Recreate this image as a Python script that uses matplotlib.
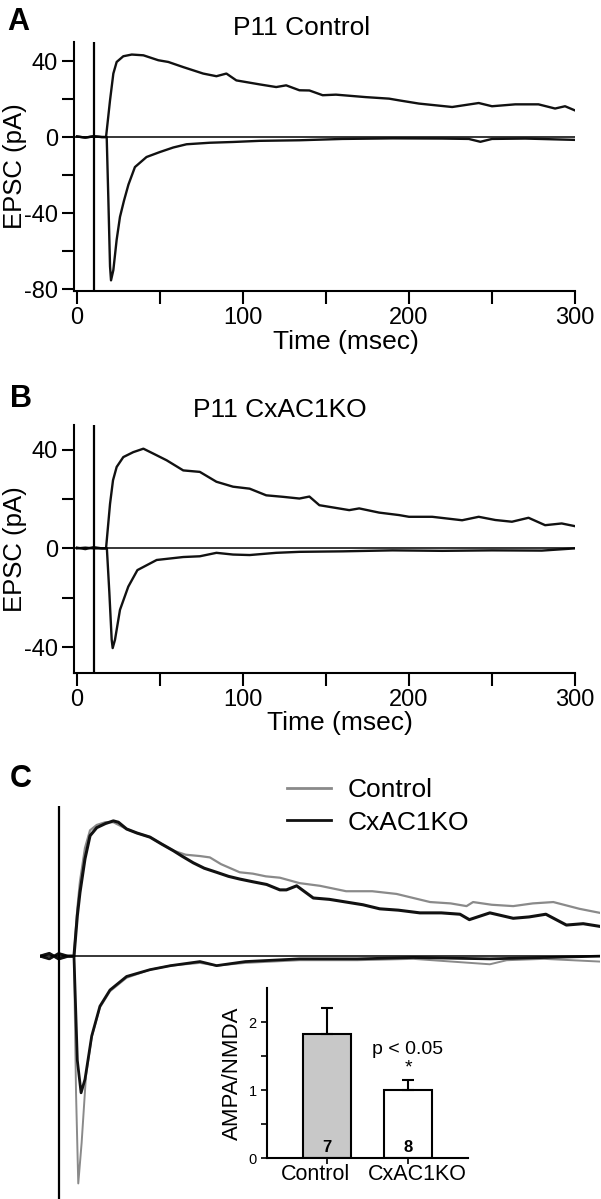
import matplotlib.pyplot as plt

plt.rcParams['font.family'] = ['Liberation Sans', 'DejaVu Sans']

W, H = 601, 1199

# --- panel A, P11 control (pA vs ms) ---
a_up_t = [0, 5, 10, 15, 17.5, 19.9, 21.9, 23.9, 27.9, 33, 40, 49, 55, 64, 76, 84, 90, 96,
          110, 120, 126, 134, 140, 148, 156, 174, 188, 194, 206, 226, 242, 250, 264, 278,
          288, 294, 300]
a_up_i = [0.3, -0.3, 0.5, 0, 0, 19.3, 33.4, 39.5, 42.5, 43.4, 43, 40.4, 39.5, 36.8, 33.4,
          32, 33.4, 29.8, 27.7, 26.3, 27.2, 24.6, 24.5, 22, 22.3, 21, 20.2, 19.3, 17.6,
          15.8, 17.9, 16.2, 17.2, 17.2, 15, 16.2, 14]
a_dn_t = [0, 5, 10, 15, 17.9, 18.9, 19.9, 20.5, 21.9, 23.9, 25.9, 28.3, 31, 34.9, 41.9,
          49.9, 58, 66, 80, 94, 110, 134, 160, 190, 220, 236, 243, 250, 270, 300]
a_dn_i = [0.3, -0.3, 0.3, 0, 0, -33, -68, -75.4, -70, -54, -42, -33.5, -25, -15.8, -10.5,
          -7.9, -5.5, -3.8, -3, -2.6, -2, -1.7, -1, -0.7, -0.8, -1, -2.5, -1, -0.8, -1.5]

# --- panel B, P11 CxAC1KO ---
b_up_t = [0, 5, 10, 15, 17.5, 19.9, 21.7, 23.9, 27.9, 33.9, 40, 46, 54, 64, 74, 84, 94,
          104, 114, 124, 134, 140, 146, 155, 164, 170, 182, 194, 200, 214, 232, 242, 252,
          262, 272, 282, 292, 300]
b_up_i = [0.3, -0.3, 0.5, 0, 0, 18, 27.6, 33, 37, 39, 40.4, 38.4, 35.7, 31.6, 31, 27, 25,
          24.2, 21.5, 20.9, 20.2, 21, 17.5, 16.5, 15.5, 16.2, 14.5, 13.5, 12.8, 12.8, 11.4,
          12.8, 11.5, 10.8, 12.4, 9.4, 10.1, 9]
b_dn_t = [0, 5, 10, 15, 18, 19.5, 20.9, 21.5, 22.9, 25.9, 30.9, 36.4, 48, 64, 74, 84, 94,
          104, 120, 134, 160, 190, 220, 250, 280, 300]
b_dn_i = [0, 0.3, 0, 0, 0, -18, -37, -40.4, -37, -24.9, -15.5, -8.8, -4.7, -3.5, -3.2,
          -1.8, -2.5, -2.7, -1.8, -1.4, -1.2, -0.8, -1, -0.8, -0.9, 0]

# --- panel C, normalised averages ---
c_ko_up_t = [0, 5, 10, 15, 18.2, 20, 21.4, 24.1, 26.8, 30.4, 35, 39.3, 42, 46.4, 52, 58.9,
             65, 71.4, 76, 82.1, 88, 94.6, 101, 107, 114, 121.4, 128.5, 132, 137.5, 146.4,
             155, 164, 173, 182, 192, 203.5, 215, 225, 230, 241, 253.5, 262, 271, 282, 291,
             300]
c_ko_up = [0, 0.02, -0.02, 0, 0, 0.3, 0.47, 0.72, 0.89, 0.95, 0.98, 1.0, 0.99, 0.94, 0.91,
           0.88, 0.83, 0.78, 0.74, 0.69, 0.65, 0.62, 0.59, 0.57, 0.55, 0.53, 0.49, 0.49,
           0.52, 0.43, 0.42, 0.40, 0.38, 0.35, 0.34, 0.32, 0.32, 0.31, 0.27, 0.32, 0.28,
           0.29, 0.31, 0.23, 0.24, 0.22]
c_ct_up_t = [0, 5, 10, 15, 18.2, 20, 21.4, 24.1, 26.8, 30.4, 35, 39.3, 46.4, 52, 58.9, 65,
             71.4, 78, 85.7, 91, 97, 107, 114, 121, 128.5, 139, 150, 164, 178, 191, 200,
             209, 220, 228.5, 232, 242, 253.5, 264, 275, 289, 300]
c_ct_up = [0, 0.02, -0.02, 0, 0, 0.35, 0.55, 0.8, 0.93, 0.97, 0.99, 0.99, 0.94, 0.91, 0.88,
           0.83, 0.78, 0.75, 0.74, 0.73, 0.68, 0.62, 0.61, 0.59, 0.58, 0.54, 0.52, 0.48,
           0.48, 0.46, 0.43, 0.40, 0.39, 0.37, 0.40, 0.38, 0.37, 0.39, 0.40, 0.35, 0.32]
c_ko_dn_t = [0, 5, 10, 15, 18.2, 20, 22, 24.1, 27.7, 32.1, 37.5, 46.4, 58.9, 70, 85.7, 94.6,
             110, 139, 170, 200, 241, 270, 300]
c_ko_dn = [0, -0.02, 0.02, 0, 0, -0.77, -1.01, -0.91, -0.59, -0.37, -0.25, -0.15, -0.10,
           -0.07, -0.04, -0.07, -0.04, -0.02, -0.02, -0.01, -0.02, -0.01, 0]
c_ct_dn_t = [0, 5, 10, 15, 18.2, 19.3, 20.5, 22.3, 24.6, 27.7, 32.1, 37.5, 46.4, 58.9, 70,
             85.7, 94.6, 110, 139, 170, 200, 241, 250, 270, 300]
c_ct_dn = [0, -0.02, 0.02, 0, 0, -1.01, -1.68, -1.38, -0.89, -0.6, -0.38, -0.26, -0.16,
           -0.10, -0.07, -0.05, -0.07, -0.05, -0.03, -0.03, -0.02, -0.06, -0.03, -0.02, -0.04]

# --- inset bar chart ---
groups = ['Control', 'CxAC1KO']
ratio = [1.83, 1.0]
ratio_err = [0.38, 0.15]
n_cells = ['7', '8']


def px_axes(fig, left, top, right, bottom):
    return fig.add_axes([left / W, 1 - bottom / H, (right - left) / W, (bottom - top) / H])


def trace_panel(ax, traces, ylim, yticks, ylabels, xlab_pos):
    for t, i in traces:
        ax.plot(t, i, color='#111111', lw=1.7)
    ax.axhline(0, color='black', lw=1.1)
    ax.axvline(10, color='black', lw=1.6)
    ax.set_xlim(-1.8, 300)
    ax.set_ylim(*ylim)
    ax.set_xticks(range(0, 301, 50))
    ax.set_xticklabels(['0', '', '100', '', '200', '', '300'])
    ax.set_yticks(yticks)
    ax.set_yticklabels(ylabels)
    ax.tick_params(length=9, width=1.5, labelsize=17, pad=2.5)
    for s in ['top', 'right']:
        ax.spines[s].set_visible(False)
    for s in ['left', 'bottom']:
        ax.spines[s].set_linewidth(1.5)
    ax.set_xlabel('Time (msec)', fontsize=19)
    ax.xaxis.set_label_coords(*xlab_pos)
    ax.set_ylabel('EPSC (pA)', fontsize=18.5)
    ax.yaxis.set_label_coords((27 - 74) / 501, 0.5)


fig = plt.figure(figsize=(W / 100, H / 100), dpi=100)

axA = px_axes(fig, 74, 42, 575, 291)
trace_panel(axA, [(a_up_t, a_up_i), (a_dn_t, a_dn_i)], (-81, 50),
            range(-80, 41, 20), ['-80', '', '-40', '', '0', '', '40'],
            ((346 - 74) / 501, -0.158))
fig.text(302 / W, 1 - 35 / H, 'P11 Control', fontsize=19, ha='center', va='baseline')
fig.text(7 / W, 1 - 30 / H, 'A', fontsize=22, fontweight='bold', va='baseline')

axB = px_axes(fig, 74, 425, 575, 673)
trace_panel(axB, [(b_up_t, b_up_i), (b_dn_t, b_dn_i)], (-50.5, 50),
            range(-40, 41, 20), ['-40', '', '0', '', '40'],
            ((340 - 74) / 501, -0.152))
fig.text(280 / W, 1 - 417 / H, 'P11 CxAC1KO', fontsize=19, ha='center', va='baseline')
fig.text(10 / W, 1 - 407 / H, 'B', fontsize=22, fontweight='bold', va='baseline')

# panel C: no axes, just traces
axC = px_axes(fig, 40, 806, 600, 1199)
axC.plot(c_ct_up_t, c_ct_up, color='#8a8a8a', lw=1.6)
axC.plot(c_ct_dn_t, c_ct_dn, color='#8a8a8a', lw=1.4)
axC.plot(c_ko_up_t, c_ko_up, color='#111111', lw=2.2)
axC.plot(c_ko_dn_t, c_ko_dn, color='#111111', lw=2.0)
axC.axhline(0, color='black', lw=1.1)
axC.axvline(10, color='black', lw=1.6)
axC.set_xlim(0, 300)
axC.set_ylim(-1.795, 1.11)
axC.axis('off')
h1, = axC.plot([], [], color='#8a8a8a', lw=2)
h2, = axC.plot([], [], color='#111111', lw=2)
axC.legend([h1, h2], ['Control', 'CxAC1KO'], loc='upper left',
           bbox_to_anchor=(287 / W, 1 - 778 / H), bbox_transform=fig.transFigure,
           frameon=False, fontsize=19, handlelength=1.65, handletextpad=0.65,
           borderpad=0, borderaxespad=0, labelspacing=0.33)
fig.text(10 / W, 1 - 787 / H, 'C', fontsize=22, fontweight='bold', va='baseline')

# inset
axI = px_axes(fig, 267, 988, 468, 1158)
axI.set_facecolor('none')
xs = range(len(groups))
axI.bar(xs, ratio, width=0.6, color=['#c8c8c8', 'white'], edgecolor='black', lw=1.5,
        yerr=[[0, 0], ratio_err], error_kw=dict(ecolor='black', elinewidth=1.5,
                                                capsize=4, capthick=1.5))
for x, n in zip(xs, n_cells):
    axI.text(x, 0.16, n, ha='center', va='center', fontsize=12, fontweight='bold')
axI.text(1, 1.6, 'p < 0.05', ha='center', va='center', fontsize=14)
axI.text(1, 1.33, '*', ha='center', va='center', fontsize=14)
axI.set_xlim(-0.74, 1.74)
axI.set_ylim(0, 2.5)
axI.set_xticks(list(xs))
axI.set_xticklabels([])
# group names sit a little outside their ticks
for x, g, dx in zip(xs, groups, [-11, 9]):
    axI.annotate(g, xy=(x, 0), xycoords=('data', 'axes fraction'), xytext=(dx, -6),
                 textcoords='offset pixels', ha='center', va='top', fontsize=15.5)
axI.set_yticks([0, 0.5, 1, 1.5, 2])
axI.set_yticklabels(['0', '', '1', '', '2'], fontsize=10.5)
axI.tick_params(length=4.5, width=1.2, pad=3)
axI.set_ylabel('AMPA/NMDA', fontsize=16, labelpad=4)
for s in ['top', 'right']:
    axI.spines[s].set_visible(False)
for s in ['left', 'bottom']:
    axI.spines[s].set_linewidth(1.5)

fig.savefig('out.png', dpi=100)
